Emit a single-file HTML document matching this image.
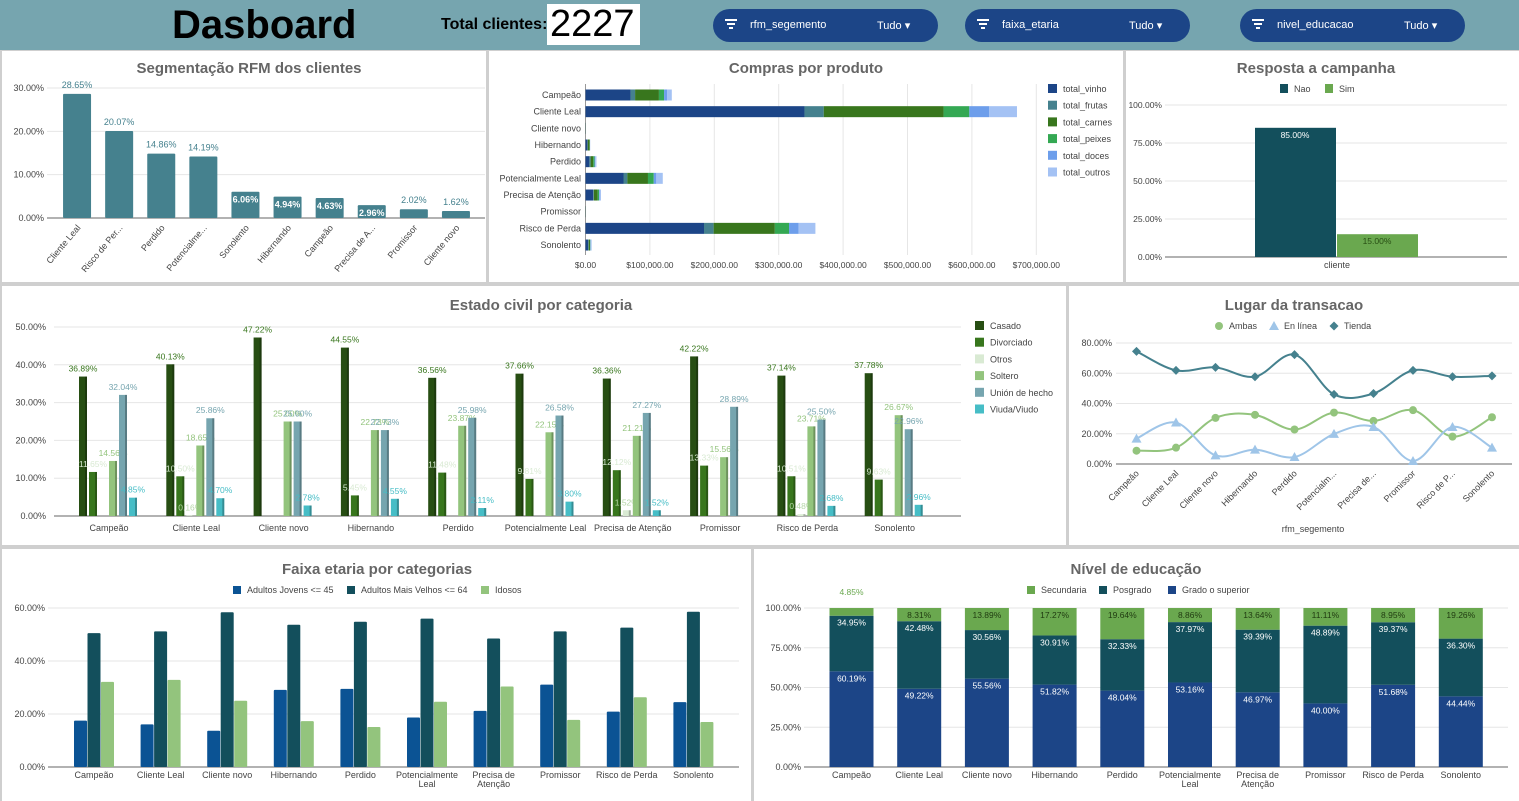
<!DOCTYPE html>
<html><head><meta charset="utf-8">
<style>
html,body{margin:0;padding:0;width:1519px;height:801px;overflow:hidden;background:#cfcfcf;font-family:"Liberation Sans",Arial,sans-serif}
#hdr{position:absolute;left:0;top:0;width:1519px;height:50px;background:#76a5af}
.pill{position:absolute;top:9px;height:33px;width:225px;background:#1c4587;border-radius:17px;color:#fff;font-size:11px}
.pill .ic{position:absolute;left:12px;top:10px;width:12px}
.pill .ic i{display:block;height:2px;background:#fff;margin:0 auto 2px}
.pill .nm{position:absolute;left:37px;top:10px}
.pill .td{position:absolute;left:164px;top:10px}
svg{position:absolute;left:0;top:0}
</style></head><body>
<div id="hdr">
 <div style="position:absolute;left:172px;top:3px;font-size:40px;font-weight:bold;color:#000">Dasboard</div>
 <div style="position:absolute;left:441px;top:16px;font-size:16px;font-weight:bold;color:#000">Total clientes:</div>
 <div style="position:absolute;left:547px;top:4px;width:93px;height:41px;background:#fff;font-size:38px;line-height:41px;color:#000;padding-left:3px;box-sizing:border-box">2227</div>
 <div class="pill" style="left:713px"><div class="ic"><i style="width:12px"></i><i style="width:8px"></i><i style="width:4px"></i></div><span class="nm">rfm_segemento</span><span class="td">Tudo ▾</span></div>
 <div class="pill" style="left:965px"><div class="ic"><i style="width:12px"></i><i style="width:8px"></i><i style="width:4px"></i></div><span class="nm">faixa_etaria</span><span class="td">Tudo ▾</span></div>
 <div class="pill" style="left:1240px"><div class="ic"><i style="width:12px"></i><i style="width:8px"></i><i style="width:4px"></i></div><span class="nm">nivel_educacao</span><span class="td">Tudo ▾</span></div>
</div>
<svg id="s" width="1519" height="801" style="top:0"></svg>
<script>
// ---------- data ----------
const rfmCats = ['Cliente Leal','Risco de Per...','Perdido','Potencialme...','Sonolento','Hibernando','Campeão','Precisa de A...','Promissor','Cliente novo'];
const rfmVals = [28.65,20.07,14.86,14.19,6.06,4.94,4.63,2.96,2.02,1.62];
const rfmTicks = [0,10,20,30];

const segCats = ['Campeão','Cliente Leal','Cliente novo','Hibernando','Perdido','Potencialmente Leal','Precisa de Atenção','Promissor','Risco de Perda','Sonolento'];
const prodNames = ['total_vinho','total_frutas','total_carnes','total_peixes','total_doces','total_outros'];
const prodVinho = [70,340,0.3,3,6,59,12,0.3,184,4];
const prodFrutas = [7,30,0,0.5,2,6,1,0,15,1];
const prodCarnes = [37,186,0.2,3,4,32,6,0.2,95,2];
const prodPeixes = [8,40,0,0.3,2,9,2,0,22,0.5];
const prodDoces = [5,31,0,0.2,1,4,1,0,15,0.5];
const prodOutros = [7,43,0,0.3,2,10,2,0,26,1.5];
const prodTicks = [0,100,200,300,400,500,600,700];

const campNames = ['Nao','Sim'];
const campVals = [85,15];
const campTicks = [0,25,50,75,100];

const civilNames = ['Casado','Divorciado','Otros','Soltero','Unión de hecho','Viuda/Viudo'];
const civCasado = [36.89,40.13,47.22,44.55,36.56,37.66,36.36,42.22,37.14,37.78];
const civDivorciado = [11.65,10.50,0,5.45,11.48,9.81,12.12,13.33,10.51,9.63];
const civOtros = [0,0.16,0,0,0,0,1.52,0,0.48,0];
const civSoltero = [14.56,18.65,25.00,22.73,23.87,22.15,21.21,15.56,23.71,26.67];
const civUnion = [32.04,25.86,25.00,22.73,25.98,26.58,27.27,28.89,25.50,22.96];
const civViuda = [4.85,4.70,2.78,4.55,2.11,3.80,1.52,0,2.68,2.96];
const civTicks = [0,10,20,30,40,50];

const lugarCats = ['Campeão','Cliente Leal','Cliente novo','Hibernando','Perdido','Potencialm...','Precisa de...','Promissor','Risco de P...','Sonolento'];
const lugAmbas = [8.8,10.8,30.5,32.5,22.8,34.0,28.5,35.6,18.1,30.9];
const lugLinea = [16.8,27.4,5.7,9.5,4.6,19.9,24.5,2.0,24.5,10.8];
const lugTienda = [74.5,61.9,63.9,57.7,72.3,46.0,46.6,61.9,57.7,58.3];
const lugTicks = [0,20,40,60,80];

const ageNames = ['Adultos Jovens <= 45','Adultos Mais Velhos <= 64','Idosos'];
const ageJovens = [17.5,16.1,13.7,29.1,29.5,18.7,21.2,31.1,20.9,24.5];
const ageVelhos = [50.5,51.2,58.4,53.7,54.8,56.0,48.5,51.2,52.6,58.6];
const ageIdosos = [32.1,32.9,25.0,17.3,15.1,24.6,30.4,17.8,26.3,17.0];
const ageTicks = [0,20,40,60];

const eduNames = ['Secundaria','Posgrado','Grado o superior'];
const eduGrado = [60.19,49.22,55.56,51.82,48.04,53.16,46.97,40.00,51.68,44.44];
const eduPos = [34.95,42.48,30.56,30.91,32.33,37.97,39.39,48.89,39.37,36.30];
const eduSec = [4.85,8.31,13.89,17.27,19.64,8.86,13.64,11.11,8.95,19.26];
const eduTicks = [0,25,50,75,100];

// ---------- helpers ----------
const S = document.getElementById('s');
const NS = 'http://www.w3.org/2000/svg';
function mk(tag, attrs, name){
  const e = document.createElementNS(NS, tag);
  for (const k in attrs) e.setAttribute(k, attrs[k]);
  
  
  S.appendChild(e);
  return e;
}
function txt(x,y,s,opt,name){
  const o = Object.assign({x:x,y:y,'font-size':9,fill:'#444','font-family':'Liberation Sans, Arial, sans-serif'},opt||{});
  const e = mk('text',o,name);
  e.textContent = s;
  return e;
}
function fmtPct(v){return v.toFixed(2)+'%';}
const CATSX = ['Campeão','Cliente Leal','Cliente novo','Hibernando','Perdido',['Potencialmente','Leal'],['Precisa de','Atenção'],'Promissor','Risco de Perda','Sonolento'];

// panels
[[2,51,484,231,'rfm-panel'],[489,51,634,231,'purchases-panel'],[1126,51,393,231,'campaign-panel'],
 [2,286,1064,259,'marital-panel'],[1069,286,450,259,'transaction-panel'],[2,549,749,252,'age-panel'],[754,549,765,252,'education-panel']]
 .forEach(p=>{mk('rect',{x:p[0],y:p[1],width:p[2],height:p[3],fill:'#fff'},p[4]);});

function title(x,y,s,name){txt(x,y,s,{'font-size':15,'font-weight':'bold',fill:'#666','text-anchor':'middle'},name);}

// ---------- RFM ----------
title(249,73,'Segmentação RFM dos clientes','rfm-title');
const yR = v=>218 - v*4.333;
const xR = i=>56 + 42.1*(i+0.5);
rfmTicks.forEach(t=>{
  mk('line',{x1:47,x2:485,y1:yR(t),y2:yR(t),stroke:t?'#e6e6e6':'#999','stroke-width':t?1:1.5},'rfm-gridline');
  txt(44,yR(t)+3,fmtPct(t),{'text-anchor':'end'},'rfm-y-tick');
});
rfmVals.forEach((v,i)=>{
  mk('rect',{x:xR(i)-14,y:yR(v),width:28,height:218-yR(v),fill:'#45818e',rx:1},'rfm-bar');
  if(v>2.5&&v<10) txt(xR(i),yR(v)+11,fmtPct(v),{'text-anchor':'middle',fill:'#fff','font-weight':'bold'},'rfm-value-label');
  else txt(xR(i),yR(v)-6,fmtPct(v),{'text-anchor':'middle',fill:'#45818e'},'rfm-value-label');
  txt(xR(i)+4,228,rfmCats[i],{'text-anchor':'end',transform:`rotate(-50 ${xR(i)+4} 228)`},'rfm-x-label');
});

// ---------- Compras ----------
title(806,73,'Compras por produto','purchases-title');
const xP = v=>585.5 + v*0.644;
const yP = i=>95 + i*16.67;
const prodColors = ['#1c4587','#45818e','#38761d','#34a853','#6d9eeb','#a4c2f4'];
const prodSeries = [prodVinho,prodFrutas,prodCarnes,prodPeixes,prodDoces,prodOutros];
prodTicks.forEach(t=>{
  mk('line',{x1:xP(t),x2:xP(t),y1:84,y2:255,stroke:t?'#e6e6e6':'#999'},'purchases-gridline');
  txt(xP(t),268,'$'+(t*1000).toLocaleString('en-US')+'.00',{'text-anchor':'middle','font-size':8.5},'purchases-x-tick');
});
segCats.forEach((c,i)=>{
  txt(581,yP(i)+3,c,{'text-anchor':'end'},'purchases-y-label');
  let acc=0;
  prodSeries.forEach((s,j)=>{
    mk('rect',{x:xP(acc),y:yP(i)-5.5,width:Math.max(0,xP(acc+s[i])-xP(acc)),height:11,fill:prodColors[j]},'purchases-bar-segment');
    acc+=s[i];
  });
});
prodNames.forEach((n,j)=>{
  mk('rect',{x:1048,y:84+j*16.7,width:9,height:9,fill:prodColors[j]},'purchases-legend-swatch');
  txt(1063,92+j*16.7,n,{},'purchases-legend-entry');
});

// ---------- Campanha ----------
title(1316,73,'Resposta a campanha','campaign-title');
const yC = v=>257 - v*1.52;
campTicks.forEach(t=>{
  mk('line',{x1:1165,x2:1507,y1:yC(t),y2:yC(t),stroke:t?'#e6e6e6':'#999','stroke-width':t?1:1.5},'campaign-gridline');
  txt(1162,yC(t)+3,fmtPct(t),{'text-anchor':'end','font-size':8.5},'campaign-y-tick');
});
const campColors=['#134f5c','#6aa84f'];
campVals.forEach((v,i)=>{
  const x=1255+i*82;
  mk('rect',{x:x,y:yC(v),width:81,height:257-yC(v),fill:campColors[i]},'campaign-bar');
  txt(x+40,yC(v)+10,fmtPct(v),{'text-anchor':'middle',fill:i?'#274e13':'#fff','font-size':8.5},'campaign-value-label');
  mk('rect',{x:1280+i*45,y:84,width:8,height:9,fill:campColors[i]},'campaign-legend-swatch');
  txt(1294+i*45,92,campNames[i],{},'campaign-legend-entry');
});
txt(1337,268,'cliente',{'text-anchor':'middle'},'campaign-x-label');

// ---------- Estado civil ----------
title(541,310,'Estado civil por categoria','marital-title');
const yE = v=>516 - v*3.78;
const xE = i=>109 + 87.3*i;
const civColors=['#274e13','#38761d','#d9ead3','#93c47d','#76a5af','#46bdc6'];
const civLbl=['#38761d','#d9ead3','#b6d7a8','#93c47d','#76a5af','#46bdc6'];
const civSeries=[civCasado,civDivorciado,civOtros,civSoltero,civUnion,civViuda];
civTicks.forEach(t=>{
  mk('line',{x1:54,x2:961,y1:yE(t),y2:yE(t),stroke:t?'#e6e6e6':'#999','stroke-width':t?1:1.5},'marital-gridline');
  txt(46,yE(t)+3,fmtPct(t),{'text-anchor':'end'},'marital-y-tick');
});
segCats.forEach((c,i)=>{
  civSeries.forEach((s,j)=>{
    const v=s[i]; if(!v) return;
    const x=xE(i)-30+j*10;
    mk('rect',{x:x,y:yE(v),width:8,height:516-yE(v),fill:civColors[j]},'marital-bar');
    mk('rect',{x:x+6,y:yE(v),width:2,height:516-yE(v),fill:'#000','fill-opacity':0.25},'marital-bar-side');
    txt(x+4,yE(v)-5,fmtPct(v),{'text-anchor':'middle',fill:civLbl[j],'font-size':8.5},'marital-value-label');
  });
  txt(xE(i),531,c,{'text-anchor':'middle'},'marital-x-label');
});
civilNames.forEach((n,j)=>{
  mk('rect',{x:975,y:321+j*16.7,width:9,height:9,fill:civColors[j]},'marital-legend-swatch');
  txt(990,329+j*16.7,n,{},'marital-legend-entry');
});

// ---------- Lugar ----------
title(1294,310,'Lugar da transacao','transaction-title');
const xL = i=>1136.5 + 39.5*i;
const yL = v=>464 - v*1.5125;
lugTicks.forEach(t=>{
  mk('line',{x1:1116,x2:1512,y1:yL(t),y2:yL(t),stroke:t?'#e6e6e6':'#999','stroke-width':t?1:1.5},'transaction-gridline');
  txt(1112,yL(t)+3,fmtPct(t),{'text-anchor':'end'},'transaction-y-tick');
});
function smooth(vals){
  const p=vals.map((v,i)=>[xL(i),yL(v)]);
  let d='M'+p[0][0]+','+p[0][1];
  for(let i=0;i<p.length-1;i++){
    const p0=p[i-1]||p[i],p1=p[i],p2=p[i+1],p3=p[i+2]||p2;
    const c1=[p1[0]+(p2[0]-p0[0])/6,p1[1]+(p2[1]-p0[1])/6];
    const c2=[p2[0]-(p3[0]-p1[0])/6,p2[1]-(p3[1]-p1[1])/6];
    d+=` C${c1[0]},${c1[1]} ${c2[0]},${c2[1]} ${p2[0]},${p2[1]}`;
  }
  return d;
}
const lugSeries=[[lugAmbas,'#93c47d','circle','transaction-line-ambas'],[lugLinea,'#9fc5e8','tri','transaction-line-online'],[lugTienda,'#45818e','dia','transaction-line-store']];
function marker(x,y,type,col,name){
  if(type==='circle') mk('circle',{cx:x,cy:y,r:4,fill:col},name);
  else if(type==='tri') mk('path',{d:`M${x},${y-5}L${x+5},${y+4}L${x-5},${y+4}Z`,fill:col},name);
  else mk('path',{d:`M${x},${y-4.5}L${x+4.5},${y}L${x},${y+4.5}L${x-4.5},${y}Z`,fill:col},name);
}
lugSeries.forEach(s=>{
  mk('path',{d:smooth(s[0]),fill:'none',stroke:s[1],'stroke-width':2},s[3]);
  s[0].forEach((v,i)=>marker(xL(i),yL(v),s[2],s[1],'transaction-point'));
});
lugarCats.forEach((c,i)=>{
  txt(xL(i)+3,474,c,{'text-anchor':'end',transform:`rotate(-45 ${xL(i)+3} 474)`},'transaction-x-label');
});
txt(1313,532,'rfm_segemento',{'text-anchor':'middle'},'transaction-x-title');
[['Ambas',1219,'circle','#93c47d'],['En línea',1274,'tri','#9fc5e8'],['Tienda',1334,'dia','#45818e']].forEach(l=>{
  marker(l[1],326,l[2],l[3],'transaction-legend-marker');
  txt(l[1]+10,329,l[0],{},'transaction-legend-entry');
});

// ---------- Faixa etaria ----------
title(377,574,'Faixa etaria por categorias','age-title');
const yF = v=>767 - v*2.65;
const xF = i=>94 + 66.6*i;
const ageColors=['#0b5394','#134f5c','#93c47d'];
const ageSeries=[ageJovens,ageVelhos,ageIdosos];
ageTicks.forEach(t=>{
  mk('line',{x1:48,x2:739,y1:yF(t),y2:yF(t),stroke:t?'#e6e6e6':'#999','stroke-width':t?1:1.5},'age-gridline');
  txt(45,yF(t)+3,fmtPct(t),{'text-anchor':'end'},'age-y-tick');
});
CATSX.forEach((c,i)=>{
  ageSeries.forEach((s,j)=>{
    mk('rect',{x:xF(i)-20+j*13.5,y:yF(s[i]),width:13,height:767-yF(s[i]),fill:ageColors[j],rx:1},'age-bar');
  });
  const lines=Array.isArray(c)?c:[c];
  lines.forEach((l,k)=>txt(xF(i),778+k*9,l,{'text-anchor':'middle'},'age-x-label'));
});
[[233,0],[347,1],[481,2]].forEach(l=>{
  mk('rect',{x:l[0],y:586,width:8,height:8,fill:ageColors[l[1]]},'age-legend-swatch');
  txt(l[0]+14,593,ageNames[l[1]],{},'age-legend-entry');
});

// ---------- Nivel de educacao ----------
title(1136,574,'Nível de educação','education-title');
const yN = v=>767 - v*1.59;
const xN = i=>851.5 + 67.7*i;
const eduColors=['#6aa84f','#134f5c','#1c4587'];
eduTicks.forEach(t=>{
  mk('line',{x1:804,x2:1508,y1:yN(t),y2:yN(t),stroke:t?'#e6e6e6':'#999','stroke-width':t?1:1.5},'education-gridline');
  txt(801,yN(t)+3,fmtPct(t),{'text-anchor':'end'},'education-y-tick');
});
CATSX.forEach((c,i)=>{
  const g=eduGrado[i],p=eduPos[i],s=eduSec[i];
  mk('rect',{x:xN(i)-22,y:yN(g),width:44,height:767-yN(g),fill:eduColors[2]},'education-bar-grado');
  mk('rect',{x:xN(i)-22,y:yN(g+p),width:44,height:yN(g)-yN(g+p),fill:eduColors[1]},'education-bar-posgrado');
  mk('rect',{x:xN(i)-22,y:yN(g+p+s),width:44,height:yN(g+p)-yN(g+p+s),fill:eduColors[0]},'education-bar-secundaria');
  txt(xN(i),yN(g)+10,fmtPct(g),{'text-anchor':'middle',fill:'#fff','font-size':8.5},'education-value-label');
  txt(xN(i),yN(g+p)+10,fmtPct(p),{'text-anchor':'middle',fill:'#fff','font-size':8.5},'education-value-label');
  if(s<6) txt(xN(i),yN(g+p+s)-13,fmtPct(s),{'text-anchor':'middle',fill:'#6aa84f','font-size':8.5},'education-value-label');
  else txt(xN(i),yN(g+p+s)+10,fmtPct(s),{'text-anchor':'middle',fill:'#1f3a10','font-size':8.5},'education-value-label');
  const lines=Array.isArray(c)?c:[c];
  lines.forEach((l,k)=>txt(xN(i),778+k*9,l,{'text-anchor':'middle'},'education-x-label'));
});
[[1027,0],[1099,1],[1168,2]].forEach(l=>{
  mk('rect',{x:l[0],y:586,width:8,height:8,fill:eduColors[l[1]]},'education-legend-swatch');
  txt(l[0]+14,593,eduNames[l[1]],{},'education-legend-entry');
});
</script>
</body></html>
